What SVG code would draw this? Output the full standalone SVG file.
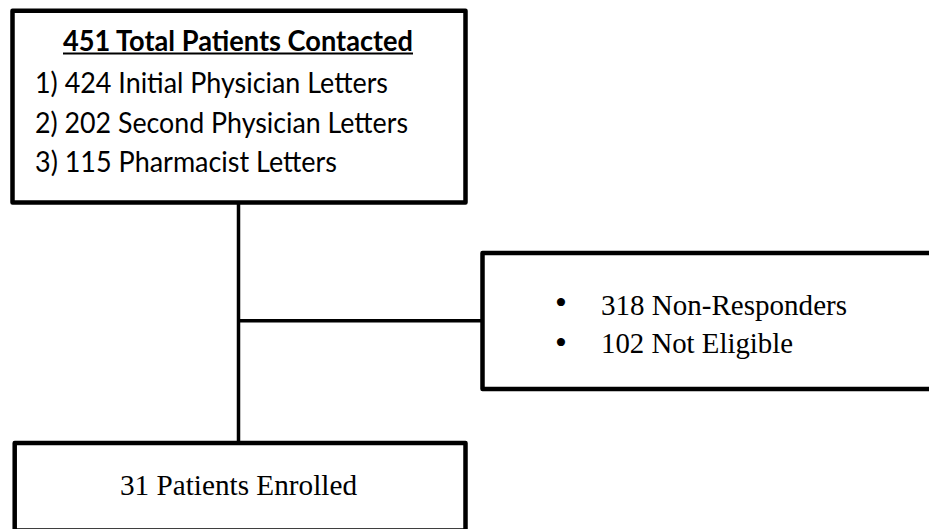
<svg xmlns="http://www.w3.org/2000/svg" width="929" height="529" viewBox="0 0 929 529">
  <style>
    .box { fill: #ffffff; stroke: #000000; stroke-width: 4.5; stroke-linejoin: round; }
    .link { stroke: #000000; stroke-width: 3.5; fill: none; }
    .sans { font-family: Lato, "Open Sans", "Liberation Sans", sans-serif; font-size: 28px; fill: #000000; }
    .serif { font-family: "Liberation Serif", "Times New Roman", serif; font-size: 30px; fill: #000000; }
    .bullet { font-family: "Liberation Serif", "Times New Roman", serif; font-size: 34px; fill: #000000; }
    .title { font-weight: bold; }
  </style>
  <rect x="0" y="0" width="929" height="529" fill="#ffffff"/>

  <!-- connectors -->
  <g id="connectors">
    <line class="link" x1="238.5" y1="202" x2="238.5" y2="443"/>
    <line class="link" x1="238.5" y1="320.7" x2="482" y2="320.7"/>
  </g>

  <!-- contact summary -->
  <g id="contacted">
    <rect class="box" x="12.5" y="10.8" width="453" height="191.7"/>
    <text class="sans title" x="238" y="51" text-anchor="middle" textLength="350" lengthAdjust="spacingAndGlyphs">451 Total Patients Contacted</text>
    <line x1="63" y1="53.5" x2="413" y2="53.5" stroke="#000000" stroke-width="2"/>
    <text class="sans" x="35" y="93" textLength="353" lengthAdjust="spacingAndGlyphs">1) 424 Initial Physician Letters</text>
    <text class="sans" x="35" y="133" textLength="373" lengthAdjust="spacingAndGlyphs">2) 202 Second Physician Letters</text>
    <text class="sans" x="35" y="172" textLength="302" lengthAdjust="spacingAndGlyphs">3) 115 Pharmacist Letters</text>
  </g>

  <!-- excluded -->
  <g id="excluded">
    <rect class="box" x="482.5" y="253" width="460" height="136"/>
    <text class="bullet" x="555" y="314">•</text>
    <text class="serif" x="601" y="315" textLength="246" lengthAdjust="spacingAndGlyphs">318 Non-Responders</text>
    <text class="bullet" x="555" y="354">•</text>
    <text class="serif" x="601" y="353" textLength="192" lengthAdjust="spacingAndGlyphs">102 Not Eligible</text>
  </g>

  <!-- enrolled -->
  <g id="enrolled">
    <rect class="box" x="14.7" y="443" width="450.8" height="87.5"/>
    <text class="serif" x="238.5" y="495" text-anchor="middle" textLength="237" lengthAdjust="spacingAndGlyphs">31 Patients Enrolled</text>
  </g>
</svg>
